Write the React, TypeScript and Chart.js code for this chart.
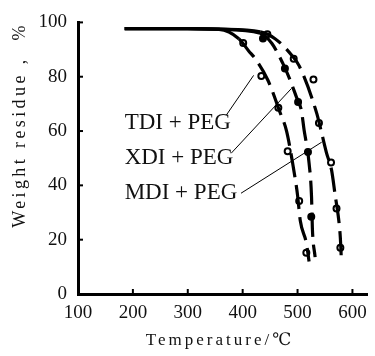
import React, { useEffect, useRef } from 'react';
import { Chart, registerables } from 'chart.js';

Chart.register(...registerables);

// Axis ticks
const xTickValues = [100, 200, 300, 400, 500, 600];
const yTickValues = [0, 20, 40, 60, 80, 100];

// Fitted curves
const tdiCurveX = [185, 300, 357, 393, 411, 423, 446, 468, 480, 491, 500, 505, 516, 521];
const tdiCurveY = [97.7, 97.7, 97.4, 94, 89.5, 86.6, 78.7, 66.9, 60, 48.2, 36.4, 27, 18.8, 12];
const xdiCurveX = [185, 300, 357, 432, 453, 473, 485, 498, 507, 512, 516, 521, 525.5, 527, 532];
const xdiCurveY = [97.7, 97.7, 97.5, 96, 92.3, 85, 79.5, 72.5, 67.6, 60.3, 55.5, 48.2, 35.7, 24.3, 13.6];
const mdiCurveX = [185, 300, 357, 432, 459, 489, 503, 535, 544, 553, 562, 569, 574, 578, 580];
const mdiCurveY = [97.7, 97.7, 97.5, 96.5, 94, 88, 84, 66.5, 59.2, 51.8, 45.6, 35.7, 29, 20.6, 11.8];

// Measured points
const tdiPointX = [401, 434, 465, 482, 503, 516];
const tdiPointY = [92.4, 80.3, 68.6, 52.6, 34.2, 15.2];
const xdiPointX = [437, 477, 501, 519, 525];
const xdiPointY = [94.1, 83, 70.7, 52.3, 28.4];
const mdiPointX = [445, 493, 529, 539, 561, 571, 578];
const mdiPointY = [95.6, 86.6, 79, 63, 48.4, 31.5, 17];

// Labels and their leader lines
const seriesLabels = ['TDI + PEG', 'XDI + PEG', 'MDI + PEG'];
const labelAnchorX = [185, 185, 185];
const labelAnchorY = [62.8, 50.2, 37.3];
const leaderStartX = [370, 379, 397];
const leaderStartY = [65.8, 51.8, 37.1];
const leaderEndX = [420, 489, 544];
const leaderEndY = [80.5, 75.7, 55.9];

const X_TITLE = 'Temperature/℃';
const Y_TITLE = 'Weight residue ,  %';

const FONT = '"Liberation Serif", "DejaVu Serif", "Times New Roman", serif';

const zip = (xs: number[], ys: number[]) => xs.map((x, i) => ({ x, y: ys[i] }));

export default function App() {
  const ref = useRef<HTMLCanvasElement | null>(null);

  useEffect(() => {
    document.body.style.margin = '0';
    const canvas = ref.current;
    if (!canvas) return;

    const curve = (xs: number[], ys: number[], solidUntil: number) => ({
      data: zip(xs, ys),
      showLine: true,
      borderColor: '#000',
      borderWidth: 3.2,
      pointRadius: 0,
      cubicInterpolationMode: 'monotone' as const,
      segment: {
        borderDash: (ctx: any) => (ctx.p1.parsed.x <= solidUntil ? [] : [24, 8]),
      },
    });
    const markers = (xs: number[], ys: number[], filled: boolean) => ({
      data: zip(xs, ys),
      showLine: false,
      pointRadius: 3,
      pointBorderWidth: 2,
      pointBorderColor: '#000',
      pointBackgroundColor: filled ? '#000' : '#fff',
    });
    const leaders = seriesLabels.map((_, i) => ({
      data: [
        { x: leaderStartX[i], y: leaderStartY[i] },
        { x: leaderEndX[i], y: leaderEndY[i] },
      ],
      showLine: true,
      borderColor: '#000',
      borderWidth: 1,
      pointRadius: 0,
    }));

    const decor = {
      id: 'decor',
      afterDraw(chart: any) {
        const { ctx, chartArea, scales } = chart;
        const xs = scales.x;
        const ys = scales.y;
        ctx.save();
        // inward tick marks
        ctx.strokeStyle = '#000';
        ctx.lineWidth = 2;
        xTickValues.forEach((v) => {
          if (v === xs.min) return;
          const px = xs.getPixelForValue(v);
          ctx.beginPath();
          ctx.moveTo(px, chartArea.bottom);
          ctx.lineTo(px, chartArea.bottom - 5);
          ctx.stroke();
        });
        yTickValues.forEach((v) => {
          if (v === ys.min) return;
          const py = ys.getPixelForValue(v);
          ctx.beginPath();
          ctx.moveTo(chartArea.left, py);
          ctx.lineTo(chartArea.left + 5, py);
          ctx.stroke();
        });
        // series labels
        ctx.fillStyle = '#111';
        ctx.font = `23px ${FONT}`;
        ctx.textAlign = 'left';
        ctx.textBaseline = 'middle';
        seriesLabels.forEach((t, i) => {
          ctx.fillText(t, xs.getPixelForValue(labelAnchorX[i]), ys.getPixelForValue(labelAnchorY[i]));
        });
        // x title
        ctx.font = `17px ${FONT}`;
        (ctx as any).letterSpacing = '3px';
        ctx.textAlign = 'center';
        ctx.fillText(X_TITLE, 220, 341);
        // y title
        ctx.translate(20, 125);
        ctx.rotate(-Math.PI / 2);
        ctx.font = `18px ${FONT}`;
        (ctx as any).letterSpacing = '3.4px';
        ctx.fillText(Y_TITLE, 0, 0);
        ctx.restore();
      },
    };

    const chart = new Chart(canvas, {
      type: 'scatter',
      data: {
        datasets: [
          curve(tdiCurveX, tdiCurveY, 393),
          curve(xdiCurveX, xdiCurveY, 432),
          curve(mdiCurveX, mdiCurveY, 432),
          markers(tdiPointX, tdiPointY, false),
          markers(xdiPointX, xdiPointY, true),
          markers(mdiPointX, mdiPointY, false),
          ...leaders,
        ] as any,
      },
      options: {
        animation: false,
        responsive: false,
        layout: { padding: { top: 22, right: 0, left: 0, bottom: 0 } },
        plugins: { legend: { display: false }, tooltip: { enabled: false } },
        scales: {
          x: {
            type: 'linear',
            min: 100,
            max: 628,
            afterBuildTicks: (s: any) => {
              s.ticks = xTickValues.map((value) => ({ value }));
            },
            afterFit: (s: any) => {
              s.height = 62;
            },
            grid: { display: false, drawTicks: false },
            border: { display: true, color: '#000', width: 3 },
            ticks: {
              padding: 8,
              color: '#111',
              font: { family: FONT, size: 19 },
              maxRotation: 0,
              autoSkip: false,
            },
          },
          y: {
            type: 'linear',
            min: 0,
            max: 100,
            afterBuildTicks: (s: any) => {
              s.ticks = yTickValues.map((value) => ({ value }));
            },
            afterFit: (s: any) => {
              s.width = 78;
            },
            grid: { display: false, drawTicks: false },
            border: { display: true, color: '#000', width: 3 },
            ticks: {
              padding: 11,
              color: '#111',
              font: { family: FONT, size: 19 },
              autoSkip: false,
            },
          },
        },
      },
      plugins: [decor],
    });

    return () => chart.destroy();
  }, []);

  return (
    <div style={{ width: 375, height: 356 }}>
      <canvas ref={ref} width={375} height={356} style={{ display: 'block' }} />
    </div>
  );
}
